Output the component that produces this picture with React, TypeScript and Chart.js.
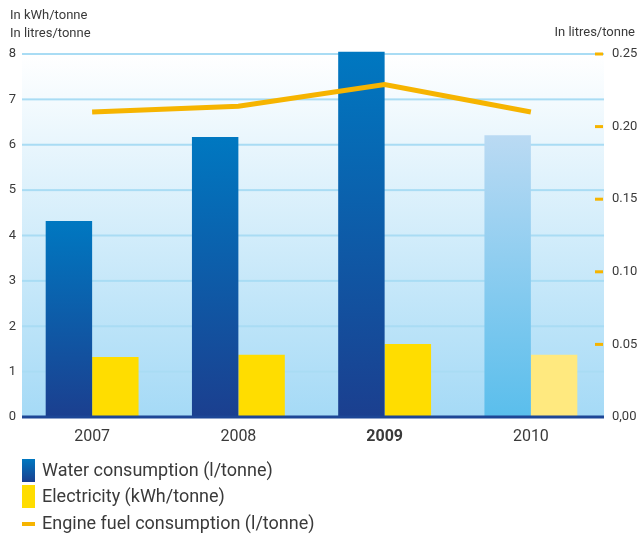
import React, { useEffect, useRef } from "react";
import { Chart, registerables } from "chart.js";

Chart.register(...registerables);

const categories = ["2007", "2008", "2009", "2010"];
const waterValues = [4.32, 6.17, 8.05, 6.21];
const electricityValues = [1.32, 1.37, 1.61, 1.37];
const fuelValues = [0.21, 0.214, 0.229, 0.21];
const rightTickLabels = ["0,00", "0.05", "0.10", "0.15", "0.20", "0.25"];
const legendLabels = [
  "Water consumption (l/tonne)",
  "Electricity (kWh/tonne)",
  "Engine fuel consumption (l/tonne)",
];

const FONT = "Roboto, 'DejaVu Sans', sans-serif";
const TEXT = "#3a3a3a";
const ORANGE = "#f6b400";
const PLOT_LEFT = 22;

function barGradient(ctx: any, top: string, bottom: string, fallback: string) {
  const chart = ctx.chart;
  if (!chart.chartArea || ctx.raw == null) return fallback;
  const yScale = chart.scales.y;
  const y0 = yScale.getPixelForValue(ctx.raw);
  const y1 = yScale.getPixelForValue(0);
  const g = chart.ctx.createLinearGradient(0, y0, 0, y1);
  g.addColorStop(0, top);
  g.addColorStop(1, bottom);
  return g;
}

const decorPlugin = {
  id: "decor",
  beforeDatasetsDraw(chart: any) {
    const { ctx, chartArea } = chart;
    const { right, top, bottom } = chartArea;
    const g = ctx.createLinearGradient(0, top, 0, bottom);
    g.addColorStop(0, "#ffffff");
    g.addColorStop(1, "#a5daf6");
    ctx.save();
    ctx.fillStyle = g;
    ctx.fillRect(PLOT_LEFT, top, right - PLOT_LEFT, bottom - top);
    // horizontal grid lines of the left axis
    const y = chart.scales.y;
    ctx.fillStyle = "#a9dcf4";
    y.ticks.forEach((t: any) => {
      if (t.value === 0) return;
      const py = y.getPixelForValue(t.value);
      ctx.fillRect(PLOT_LEFT, py - 1, right - PLOT_LEFT, 2);
    });
    ctx.restore();
  },
  afterDatasetsDraw(chart: any) {
    const { ctx, chartArea } = chart;
    const { right, bottom } = chartArea;
    ctx.save();
    // baseline
    ctx.fillStyle = "#1d4696";
    ctx.fillRect(PLOT_LEFT, bottom - 1.5, right - PLOT_LEFT, 3);
    // right axis tick dashes
    const y1 = chart.scales.y1;
    ctx.fillStyle = ORANGE;
    for (let i = 1; i < rightTickLabels.length; i++) {
      const y = y1.getPixelForValue(i * 0.05);
      ctx.fillRect(right - 9, y - 1.5, 8, 3);
    }
    ctx.restore();
  },
  afterDraw(chart: any) {
    const { ctx } = chart;
    ctx.save();
    ctx.fillStyle = TEXT;
    ctx.textBaseline = "middle";
    ctx.font = `13px ${FONT}`;
    ctx.textAlign = "left";
    ctx.fillText("In kWh/tonne", 10, 16);
    ctx.fillText("In litres/tonne", 10, 34);
    ctx.textAlign = "right";
    ctx.fillText("In litres/tonne", 635, 33);

    // legend
    const x = 22;
    const wg = ctx.createLinearGradient(0, 459, 0, 482);
    wg.addColorStop(0, "#0077c0");
    wg.addColorStop(1, "#1a3f8f");
    ctx.fillStyle = wg;
    ctx.fillRect(x, 459, 13, 23);
    ctx.fillStyle = "#ffdd00";
    ctx.fillRect(x, 485, 13, 23);
    ctx.fillStyle = ORANGE;
    ctx.fillRect(x, 522, 13, 4);

    ctx.fillStyle = TEXT;
    ctx.textAlign = "left";
    ctx.font = `18px ${FONT}`;
    ctx.fillText(legendLabels[0], 42, 471);
    ctx.fillText(legendLabels[1], 42, 497);
    ctx.fillText(legendLabels[2], 42, 524);
    ctx.restore();
  },
};

export default function App() {
  const canvasRef = useRef<HTMLCanvasElement>(null);

  useEffect(() => {
    if (!canvasRef.current) return;
    const chart = new Chart(canvasRef.current, {
      data: {
        labels: categories,
        datasets: [
          {
            type: "line",
            label: legendLabels[2],
            data: fuelValues,
            yAxisID: "y1",
            borderColor: ORANGE,
            borderWidth: 5,
            pointRadius: 0,
            tension: 0,
            order: 0,
            clip: false,
          } as any,
          {
            type: "bar",
            label: legendLabels[0],
            data: waterValues,
            yAxisID: "y",
            order: 1,
            clip: false,
            categoryPercentage: 0.635,
            barPercentage: 1,
            borderWidth: 0,
            backgroundColor: (ctx: any) =>
              ctx.dataIndex === 3
                ? barGradient(ctx, "#badaf3", "#5abeec", "#8ccbef")
                : barGradient(ctx, "#0078c1", "#1b3f8f", "#0060aa"),
          } as any,
          {
            type: "bar",
            label: legendLabels[1],
            data: electricityValues,
            yAxisID: "y",
            order: 1,
            categoryPercentage: 0.635,
            barPercentage: 1,
            borderWidth: 0,
            backgroundColor: (ctx: any) =>
              ctx.dataIndex === 3 ? "#ffe97f" : "#ffdd00",
          } as any,
        ],
      },
      options: {
        responsive: false,
        animation: false,
        layout: { padding: { top: 54, bottom: 89, left: 0, right: 0 } },
        plugins: {
          legend: { display: false },
          tooltip: { enabled: false },
        },
        scales: {
          x: {
            grid: { display: false, drawTicks: false },
            border: { display: false },
            ticks: {
              color: TEXT,
              padding: 10,
              font: (ctx: any) => ({
                family: FONT,
                size: 16,
                weight: ctx.index === 2 ? "bold" : "normal",
              }),
            },
            afterFit: (s: any) => {
              s.height = 30;
            },
          },
          y: {
            position: "left",
            min: 0,
            max: 8,
            ticks: {
              stepSize: 1,
              color: TEXT,
              padding: 3,
              font: { family: FONT, size: 13 },
            },
            grid: { display: false, drawTicks: false },
            border: { display: false },
            afterFit: (s: any) => {
              s.width = 19;
            },
          },
          y1: {
            position: "right",
            min: 0,
            max: 0.25,
            ticks: {
              stepSize: 0.05,
              color: TEXT,
              padding: 8,
              font: { family: FONT, size: 13 },
              callback: (_v: any, i: number) => rightTickLabels[i],
            },
            grid: { display: false, drawTicks: false },
            border: { display: false },
            afterFit: (s: any) => {
              s.width = 34;
            },
          },
        },
      } as any,
      plugins: [decorPlugin],
    });
    return () => chart.destroy();
  }, []);

  return (
    <div style={{ position: "fixed", left: 0, top: 0, width: 638, height: 536, background: "#fff" }}>
      <canvas ref={canvasRef} width={638} height={536} />
    </div>
  );
}
